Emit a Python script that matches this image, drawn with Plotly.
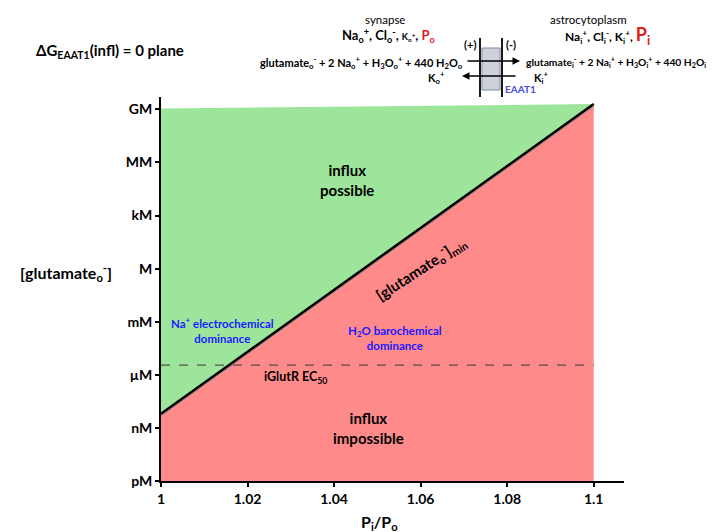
import plotly.graph_objects as go

# ---- data ----
ratio = [1.0, 1.1]                 # Pi/Po
glut_min_log = [-8.2, 9.3]         # log10 [glutamate_o]_min (M)
plane_top_log = [9.05, 9.3]        # top edge of the plotted plane
ec50_log = -5.45                   # iGlutR EC50 (log10 M)
bottom_log = -12
tick_vals = [-12, -9, -6, -3, 0, 3, 6, 9]
tick_text = ["pM", "nM", "µM", "mM", "M", "kM", "MM", "GM"]
x_ticks = [1, 1.02, 1.04, 1.06, 1.08, 1.1]
x_tick_text = ["1", "1.02", "1.04", "1.06", "1.08", "1.1"]

GREEN = "#9de59b"
PINK = "#ff8a8a"
FONT = "Lato"

# plot area in pixels
L, R, T, B = 153, 616, 89, 473
W, H = 720, 532

def px(x):
    return (x - L) / (R - L)

def py(y):
    return (B - y) / (B - T)

fig = go.Figure()

# green region (influx possible)
fig.add_trace(go.Scatter(
    x=[ratio[0], ratio[0], ratio[1], ratio[0]],
    y=[glut_min_log[0], plane_top_log[0], plane_top_log[1], glut_min_log[0]],
    fill="toself", fillcolor=GREEN, line=dict(width=0), mode="lines",
    hoverinfo="skip", showlegend=False))
# pink region (influx impossible)
fig.add_trace(go.Scatter(
    x=[ratio[0], ratio[0], ratio[1], ratio[1], ratio[0]],
    y=[bottom_log, glut_min_log[0], glut_min_log[1], bottom_log, bottom_log],
    fill="toself", fillcolor=PINK, line=dict(width=0), mode="lines",
    hoverinfo="skip", showlegend=False))
# boundary line (double)
fig.add_trace(go.Scatter(
    x=ratio, y=[v - 0.12 for v in glut_min_log], mode="lines",
    line=dict(color="#888888", width=1), hoverinfo="skip", showlegend=False))
fig.add_trace(go.Scatter(
    x=ratio, y=glut_min_log, mode="lines",
    line=dict(color="black", width=2.5), hoverinfo="skip", showlegend=False))
# EC50 dashed line
fig.add_trace(go.Scatter(
    x=ratio, y=[ec50_log, ec50_log], mode="lines",
    line=dict(color="#333333", width=1, dash="dash"),
    hoverinfo="skip", showlegend=False))

ann = []
def txt(x, y, text, size=12, color="black", xref="x", yref="y", **kw):
    d = dict(x=x, y=y, xref=xref, yref=yref, text=text, showarrow=False,
             xanchor="center", yanchor="middle",
             font=dict(family=FONT, size=size, color=color))
    d.update(kw)
    ann.append(d)

# in-plot labels
txt(1.043, 5.0, "<b>influx<br>possible</b>", 15)
txt(1.048, -9.0, "<b>influx<br>impossible</b>", 15)
txt(1.0143, -3.45, "<b>Na<sup>+</sup> electrochemical<br>dominance</b>", 11.5, "#1a1aff")
txt(1.054, -3.9, "<b>H<sub>2</sub>O barochemical<br>dominance</b>", 11.5, "#1a1aff")
txt(1.031, -6.15, "<b>iGlutR EC<sub>50</sub></b>", 12.5)
txt(1.060, 0.0, "<b>[glutamate<sub>o</sub><sup>-</sup>]<sub>min</sub></b>", 15, textangle=-33)

# axis titles
txt(px(58), py(264), "<b>[glutamate<sub>o</sub><sup>-</sup>]</b>", 16, xref="paper", yref="paper")
txt(px(371), py(514), "<b>P<sub>i</sub>/P<sub>o</sub></b>", 16, xref="paper", yref="paper")

# header title
txt(px(26), py(43), "<b>ΔG<sub>EAAT1</sub>(infl) = 0 plane</b>", 15,
    xref="paper", yref="paper", xanchor="left")

# top reaction diagram
txt(px(377), py(11), "synapse", 11.5, xref="paper", yref="paper")
txt(px(380), py(27), "<b>Na<sub>o</sub><sup>+</sup>, Cl<sub>o</sub><sup>-</sup>, "
    "<span style='font-size:9px'>K<sub>o</sub><sup>+</sup></span>, "
    "<span style='color:#e02020'>P<sub>o</sub></span></b>", 13,
    xref="paper", yref="paper")
txt(px(457), py(54), "<b>glutamate<sub>o</sub><sup>-</sup> + 2 Na<sub>o</sub><sup>+</sup> + "
    "H<sub>3</sub>O<sub>o</sub><sup>+</sup> + 440 H<sub>2</sub>O<sub>o</sub></b>", 11,
    xref="paper", yref="paper", xanchor="right")
txt(px(428), py(70), "<b>K<sub>o</sub><sup>+</sup></b>", 11, xref="paper", yref="paper")
txt(px(462), py(36), "<b>(+)</b>", 11, xref="paper", yref="paper")
txt(px(503), py(36), "<b>(-)</b>", 11, xref="paper", yref="paper")
txt(px(495), py(81), "<b>EAAT1</b>", 10, "#4a4ae0", xref="paper", yref="paper",
    xanchor="left")
txt(px(580), py(11), "astrocytoplasm", 11.5, xref="paper", yref="paper")
txt(px(599), py(28), "<b>Na<sub>i</sub><sup>+</sup>, Cl<sub>i</sub><sup>-</sup>, K<sub>i</sub><sup>+</sup>, "
    "<span style='color:#e02020;font-size:18px'>P<sub>i</sub></span></b>", 12,
    xref="paper", yref="paper")
txt(px(516), py(54), "<b>glutamate<sub>i</sub><sup>-</sup> + 2 Na<sub>i</sub><sup>+</sup> + "
    "H<sub>3</sub>O<sub>i</sub><sup>+</sup> + 440 H<sub>2</sub>O<sub>i</sub></b>", 10.3,
    xref="paper", yref="paper", xanchor="left")
txt(px(533), py(70), "<b>K<sub>i</sub><sup>+</sup></b>", 11, xref="paper", yref="paper")

# arrows (tail offsets in pixels)
ann.append(dict(x=px(512), y=py(53), ax=-54, ay=0, xref="paper", yref="paper",
                text="", showarrow=True,
                arrowhead=2, arrowsize=1, arrowwidth=1.5, arrowcolor="black"))
ann.append(dict(x=px(454), y=py(68), ax=55, ay=0, xref="paper", yref="paper",
                text="", showarrow=True,
                arrowhead=2, arrowsize=1, arrowwidth=1.5, arrowcolor="black"))

shapes = [
    dict(type="rect", xref="paper", yref="paper", x0=px(474), x1=px(492),
         y0=py(82), y1=py(40), fillcolor="#d0d0d8", line=dict(color="#7a8aa8", width=1),
         layer="below"),
    dict(type="line", xref="paper", yref="paper", x0=px(472), x1=px(472),
         y0=py(30), y1=py(89), line=dict(color="black", width=1.8)),
    dict(type="line", xref="paper", yref="paper", x0=px(494), x1=px(494),
         y0=py(30), y1=py(89), line=dict(color="black", width=1.8)),
]

fig.update_layout(
    width=W, height=H,
    margin=dict(l=L, r=W - R, t=T, b=H - B, pad=0),
    paper_bgcolor="white", plot_bgcolor="white",
    annotations=ann, shapes=shapes,
    font=dict(family=FONT, color="black"),
    xaxis=dict(range=[1.0, 1.107], tickvals=x_ticks,
               ticktext=[f"<b>{t}</b>" for t in x_tick_text],
               showline=True, linecolor="black", linewidth=2, ticks="outside",
               ticklen=4, tickwidth=1.5, tickcolor="black", showgrid=False,
               zeroline=False, tickfont=dict(size=14, family=FONT)),
    yaxis=dict(range=[-12, 9.7], tickvals=tick_vals,
               ticktext=[f"<b>{t}</b>" for t in tick_text],
               showline=True, linecolor="black", linewidth=2, ticks="outside",
               ticklen=4, tickwidth=1.5, tickcolor="black", showgrid=False,
               zeroline=False, tickfont=dict(size=14, family=FONT), ticksuffix="  "),
)

fig.write_html("out.html")
